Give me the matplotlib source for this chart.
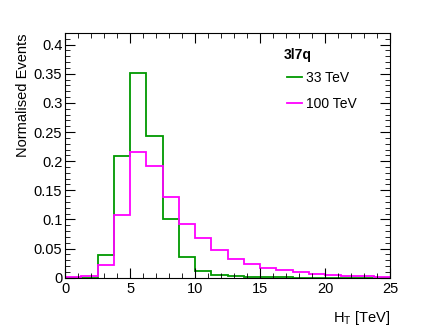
import matplotlib
matplotlib.use('Agg')
import matplotlib.pyplot as plt
import numpy as np
from matplotlib.ticker import MultipleLocator, FuncFormatter

plt.rcParams['font.family'] = ['Liberation Sans', 'DejaVu Sans']

# bin edges in TeV (20 bins of 1.25)
edges = np.linspace(0, 25, 21)

# normalised event fractions
ht_33 = [0.0, 0.0, 0.039, 0.208, 0.351, 0.243, 0.101, 0.035, 0.012, 0.004,
         0.002, 0.001, 0.0005, 0.0003, 0.0002, 0.0001, 0.0, 0.0, 0.0, 0.0]
ht_100 = [0.0003, 0.002, 0.022, 0.107, 0.215, 0.192, 0.139, 0.092, 0.068, 0.047,
          0.032, 0.024, 0.016, 0.0125, 0.009, 0.006, 0.004, 0.003, 0.002, 0.001]

fig = plt.figure(figsize=(4.34, 3.27), dpi=100)
ax = fig.add_axes([0.150, 0.151, 0.749, 0.748])

ax.stairs(ht_33, edges, color='#009900', lw=1.3, label='33 TeV')
ax.stairs(ht_100, edges, color='#ff00ff', lw=1.3, label='100 TeV')

ax.set_xlim(0, 25)
ax.set_ylim(0, 0.42)

ax.xaxis.set_major_locator(MultipleLocator(5))
ax.xaxis.set_minor_locator(MultipleLocator(1))
ax.yaxis.set_major_locator(MultipleLocator(0.05))
ax.yaxis.set_minor_locator(MultipleLocator(0.01))
ax.yaxis.set_major_formatter(FuncFormatter(lambda v, p: '0' if v == 0 else ('%g' % round(v, 2))))
ax.tick_params(which='both', direction='in', top=True, right=True, labelsize=10.5)
ax.tick_params(which='major', length=7)
ax.tick_params(which='minor', length=3.5)
ax.tick_params(axis='y', pad=2)

ax.set_xlabel('H$_\\mathregular{T}$ [TeV]', fontsize=10.5, loc='right', labelpad=9)
ax.set_ylabel('Normalised Events', fontsize=10.5, loc='top', labelpad=3)

ax.text(0.672, 0.91, '3l7q', transform=ax.transAxes, fontsize=10, fontweight='bold', va='center')
ax.legend(loc='upper left', bbox_to_anchor=(0.643, 0.897), frameon=False, fontsize=10,
          handlelength=1.1, handletextpad=0.3, labelspacing=0.9)

plt.savefig('out.png', dpi=100)
